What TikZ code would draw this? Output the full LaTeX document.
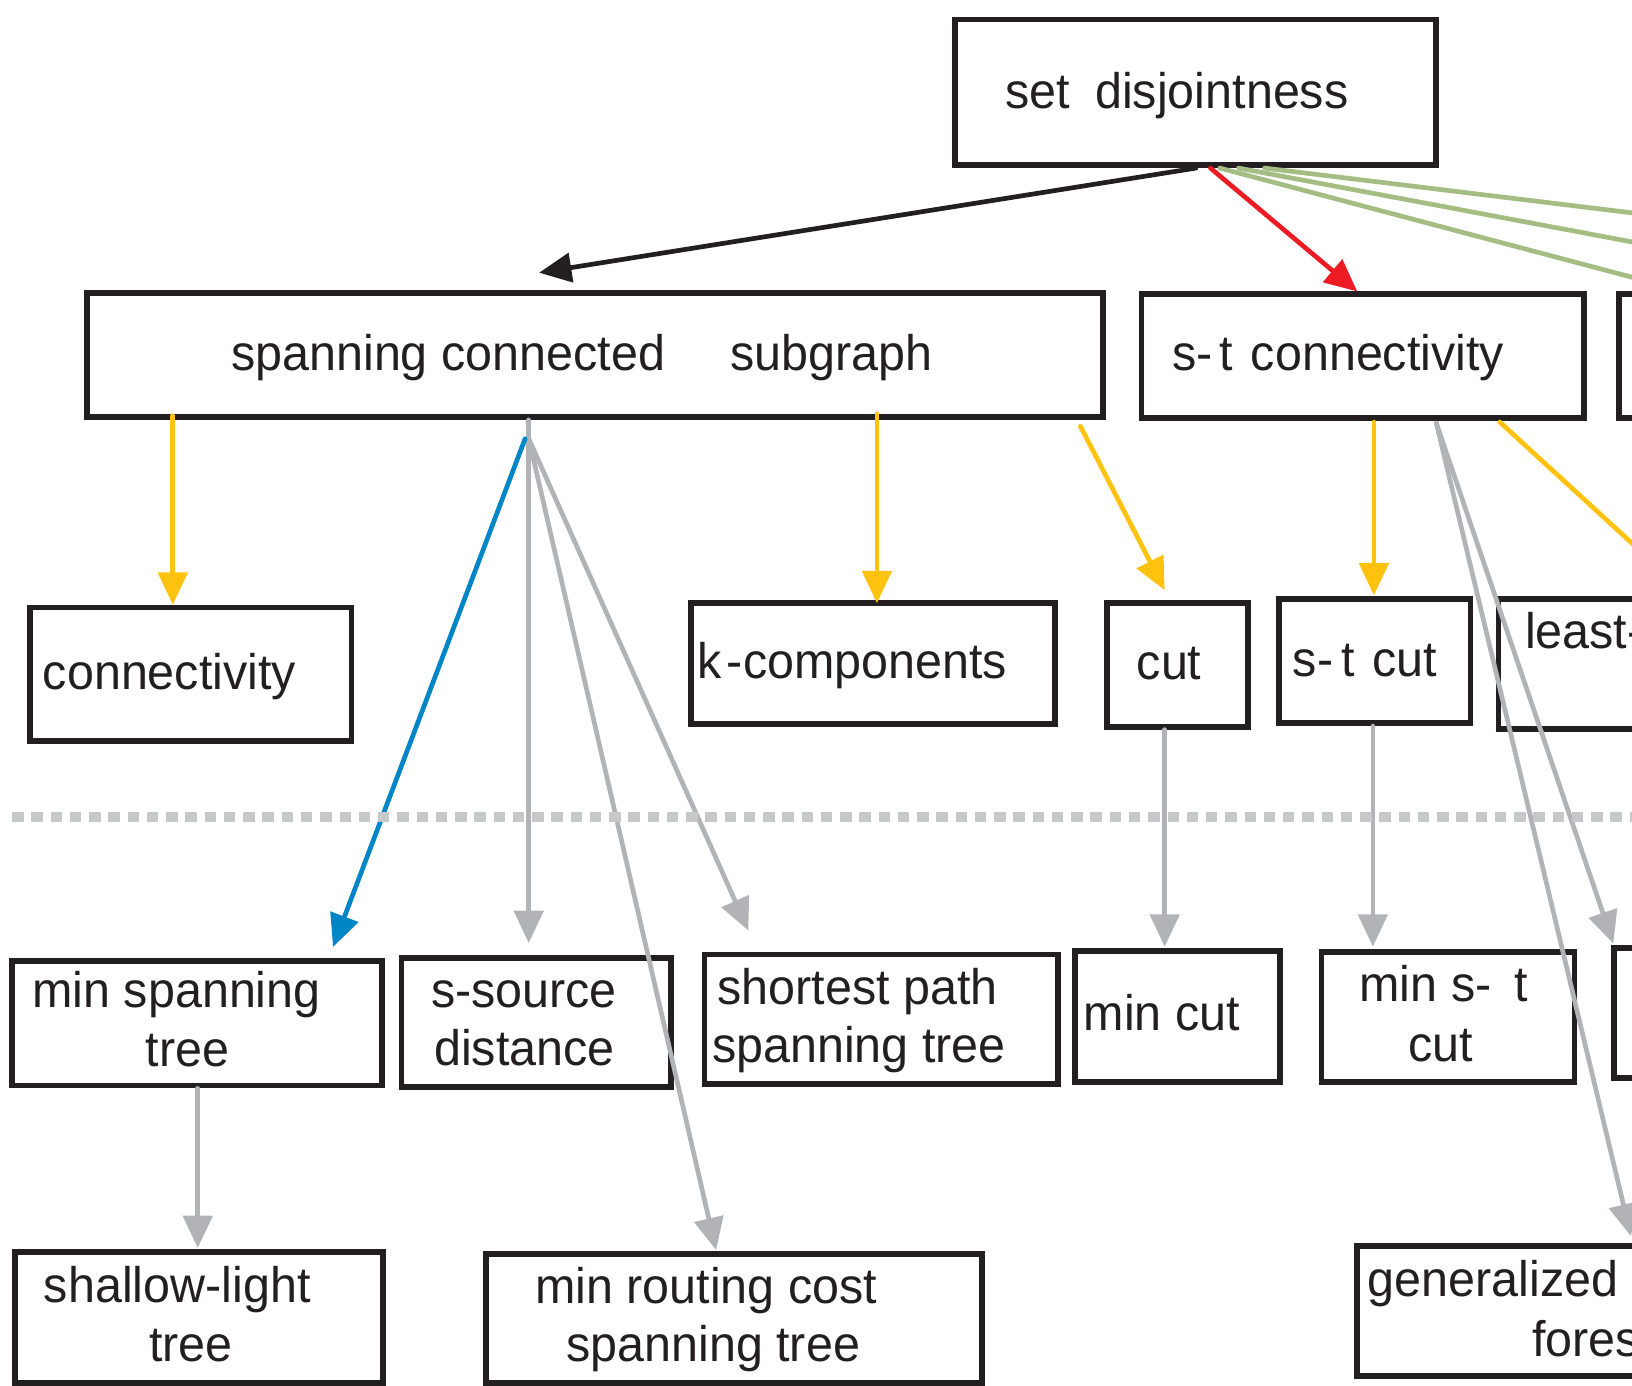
\documentclass[tikz,border=0pt]{standalone}
\usepackage{fontspec}
\setmainfont{Liberation Sans}[FakeStretch=0.97]
\usetikzlibrary{arrows.meta,calc}

\definecolor{ink}{HTML}{231F20}
\definecolor{ylw}{HTML}{FFC20E}
\definecolor{gry}{HTML}{B1B3B6}
\definecolor{blu}{HTML}{0086C6}
\definecolor{rd}{HTML}{ED1C24}
\definecolor{grn}{HTML}{A3BD83}
\definecolor{sepgray}{HTML}{C7C8CA}

\tikzset{
  box/.style={draw=ink, line width=5.5pt, inner sep=0pt, anchor=north west, line join=miter},
  lbl/.style={anchor=base west, inner sep=0pt, text=ink, font=\fontsize{48}{57}\selectfont},
  link/.style={line width=4.5pt, line cap=round},
  tip/.style={-{Triangle[length=31pt,width=28pt]}},
  ylink/.style={link, tip, draw=ylw},
  glink/.style={link, tip, draw=gry},
  blink/.style={link, tip, draw=blu},
  rlink/.style={link, tip, draw=rd},
  klink/.style={link, tip, draw=ink},
  grlink/.style={link, draw=grn},
  separator/.style={draw=sepgray, line width=10pt, dash pattern=on 11pt off 7.5pt}
}

% box from top-left (x1,y1) to bottom-right (x2,y2), y growing downwards
\newcommand\mkbox[5]{\node[box, minimum width={((#4)-(#2))*1pt}, minimum height={((#5)-(#3))*1pt}] (#1) at (#2,#3) {};}

\begin{document}
\begin{tikzpicture}[x=1pt, y=-1pt]
\useasboundingbox (0,0) rectangle (1568,1331);
\clip (0,0) rectangle (1568,1331);

% ---- boxes ----
\mkbox{setdis}{915}{16}{1377}{156}
\mkbox{span}{81}{279}{1057}{398}
\mkbox{stconn}{1094}{280}{1519}{399}
\mkbox{nextA}{1553}{280}{1720}{399}
\mkbox{conn}{26}{581}{335}{709}
\mkbox{kcomp}{661}{576.5}{1011}{693}
\mkbox{cut}{1060.5}{576.5}{1196}{695.5}
\mkbox{stcut}{1226}{573}{1410}{692}
\mkbox{least}{1437}{573}{1720}{697.5}
\mkbox{mst}{8.6}{920.7}{364.6}{1040.2}
\mkbox{ssource}{383}{917.6}{642}{1041.8}
\mkbox{sp}{674}{914.4}{1014}{1039}
\mkbox{mincut}{1030}{911}{1227}{1036.7}
\mkbox{minst}{1267}{912}{1510}{1037}
\mkbox{nextB}{1548}{908}{1720}{1033}
\mkbox{shallow}{12}{1200}{365.5}{1326}
\mkbox{mrc}{464.5}{1202}{941}{1326}
\mkbox{genf}{1301}{1194.6}{1720}{1319}

% ---- labels ----
\node[lbl] (t-setdis) at (966,104) {set\hspace{24pt}disjointness};
\node[lbl] (t-span) at (222,356) {spanning connected\hspace{63pt}subgraph};
\node[lbl] (t-stconn) at (1126,356) {s-\hspace{7pt}t\hspace{17pt}connectivity};
\node[lbl] (t-conn) at (41,662) {connectivity};
\node[lbl] (t-kcomp) at (670,652) {k\hspace{5pt}-components};
\node[lbl] (t-cut) at (1092,653) {cut};
\node[lbl] (t-stcut) at (1242,650) {s-\hspace{8pt}t\hspace{17pt}cut};
\node[lbl] (t-least) at (1465,623) {least-};
\node[lbl] (t-mst1) at (31,968) {min spanning};
\node[lbl] (t-mst2) at (140,1025) {tree};
\node[lbl] (t-ss1) at (414,968) {s-source};
\node[lbl] (t-ss2) at (417,1024) {distance};
\node[lbl] (t-sp1) at (689,965) {shortest path};
\node[lbl] (t-sp2) at (684,1021) {spanning tree};
\node[lbl] (t-mincut) at (1041,990) {min cut};
\node[lbl] (t-minst1) at (1306,962) {min s-\hspace{22pt}t};
\node[lbl] (t-minst2) at (1353,1019.5) {cut};
\node[lbl] (t-sh1) at (42,1251) {shallow-light};
\node[lbl] (t-sh2) at (143,1308) {tree};
\node[lbl] (t-mrc1) at (514,1252) {min routing cost};
\node[lbl] (t-mrc2) at (544,1308.5) {spanning tree};
\node[lbl] (t-gf1) at (1314,1246) {generalized Steiner};
\node[lbl] (t-gf2) at (1472,1303) {forest};

% ---- far ends of links leaving the drawing ----
\coordinate (g1far) at (1700,220.6);
\coordinate (g2far) at (1700,257.2);
\coordinate (g3far) at (1700,301.3);
\coordinate (yfar) at (1700,643);

% ---- links from set disjointness ----
\draw[klink] ($(setdis.south west)+(234,0)$) -- ($(span.north west)+(437,-17)$);
\draw[rlink] ($(setdis.south west)+(248,0)$) -- ($(stconn.north west)+(210,0)$);
\draw[grlink] ($(setdis.south west)+(257,0)$) -- (g3far);
\draw[grlink] ($(setdis.south west)+(275,0)$) -- (g2far);
\draw[grlink] ($(setdis.south west)+(300,0)$) -- (g1far);

% ---- links from spanning connected subgraph ----
\draw[ylink] ($(span.south west)+(85,-4)$) -- ($(conn.north west)+(140,0)$);
\draw[ylink] ($(span.south west)+(761.5,-6)$) -- ($(kcomp.north west)+(181.5,3)$);
\draw[ylink] ($(span.south east)+(-24.5,6)$) -- ($(cut.north west)+(58.5,-9.5)$);
\draw[glink] ($(span.south west)+(427,0)$) -- ($(ssource.north west)+(125,-11.6)$);
\draw[glink] ($(span.south west)+(427,18)$) -- ($(sp.north west)+(45,-20.4)$);
\draw[glink] ($(span.south west)+(427,18)$) -- ($(mrc.north west)+(223.5,-1)$);
\draw[blink] ($(span.south west)+(423.5,18)$) -- ($(mst.north west)+(311.4,-11)$);

% ---- links from s-t connectivity ----
\draw[ylink] ($(stconn.south west)+(226,1)$) -- ($(stcut.north west)+(94,-1)$);
\draw[link, draw=ylw] ($(stconn.south west)+(347,1)$) -- (yfar);
\draw[glink] ($(stconn.south west)+(286,2)$) -- ($(nextB.north west)+(2,-1.5)$);
\draw[glink] ($(stconn.south west)+(286,2)$) -- ($(genf.north west)+(266,-7)$);

% ---- lower links ----
\draw[glink] ($(cut.south west)+(58.5,0)$) -- ($(mincut.north west)+(89,-1.5)$);
\draw[glink] ($(stcut.south west)+(93,0)$) -- ($(minst.north west)+(52,-2.5)$);
\draw[glink] ($(mst.south west)+(181.4,0)$) -- ($(shallow.north west)+(178,-1)$);

% ---- dotted separator ----
\draw[separator] (11.7,785) -- (1720,785);
\end{tikzpicture}
\end{document}
